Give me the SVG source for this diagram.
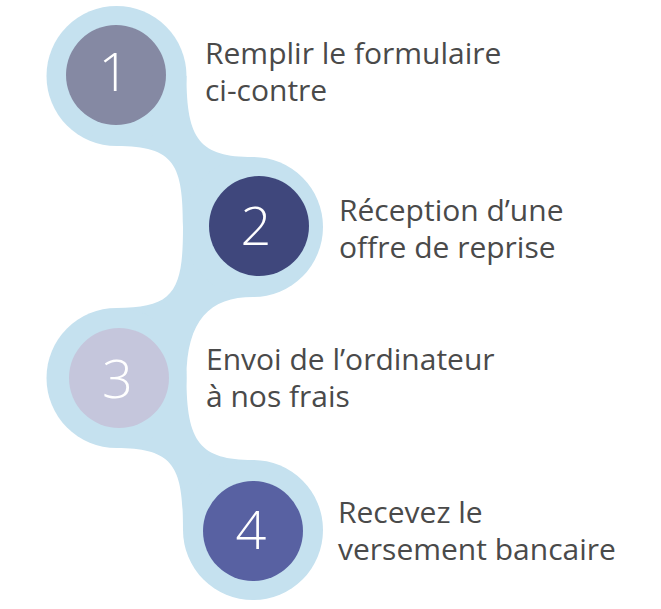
<svg xmlns="http://www.w3.org/2000/svg" width="661" height="609" viewBox="0 0 661 609">
<style>
.bg{fill:#c5e1ef}
.num{font-family:"Open Sans","Noto Sans",sans-serif;font-weight:300;font-size:54px;fill:#ffffff;text-anchor:middle}
.lbl{font-family:"Open Sans","Noto Sans",sans-serif;font-size:30px;fill:#4a4a4a}
</style>
<rect width="661" height="609" fill="#ffffff"/>
<g id="connectors">
<path class="bg" d="M186.5,76 C186.5,140 200,157 253,157 L253,227 L183,227 C183,165 175,146 116.5,146 L116.5,76 Z"/>
<path class="bg" d="M183,227 C183,290 175,308 116.5,308 L116.5,378 L186.5,378 C186.5,320 210,297 253,297 L253,227 Z"/>
<path class="bg" d="M186.5,378 C186.5,442 200,460 253,460 L253,530 L183,530 C183,468 175,448 116.5,448 L116.5,378 Z"/>
</g>
<g id="step1">
<circle class="bg" cx="116.5" cy="76" r="70"/>
<circle cx="116" cy="75" r="50" fill="#8589a3"/>
<text class="num" x="114" y="91">1</text>
<text class="lbl"><tspan x="205" y="64">Remplir le formulaire</tspan><tspan x="205" y="101">ci-contre</tspan></text>
</g>
<g id="step2">
<circle class="bg" cx="253" cy="227" r="70"/>
<circle cx="259" cy="226" r="50" fill="#3f477c"/>
<text class="num" x="256" y="245">2</text>
<text class="lbl"><tspan x="339" y="221">Réception d’une</tspan><tspan x="339" y="258">offre de reprise</tspan></text>
</g>
<g id="step3">
<circle class="bg" cx="116.5" cy="378" r="70"/>
<circle cx="119" cy="378" r="50" fill="#c5c6dc"/>
<text class="num" x="117.5" y="398">3</text>
<text class="lbl"><tspan x="206" y="370">Envoi de l’ordinateur</tspan><tspan x="206" y="407">à nos frais</tspan></text>
</g>
<g id="step4">
<circle class="bg" cx="253" cy="530" r="70"/>
<circle cx="253" cy="531" r="50" fill="#5861a2"/>
<text class="num" x="251" y="549">4</text>
<text class="lbl"><tspan x="338" y="523">Recevez le</tspan><tspan x="338" y="560">versement bancaire</tspan></text>
</g>
</svg>
